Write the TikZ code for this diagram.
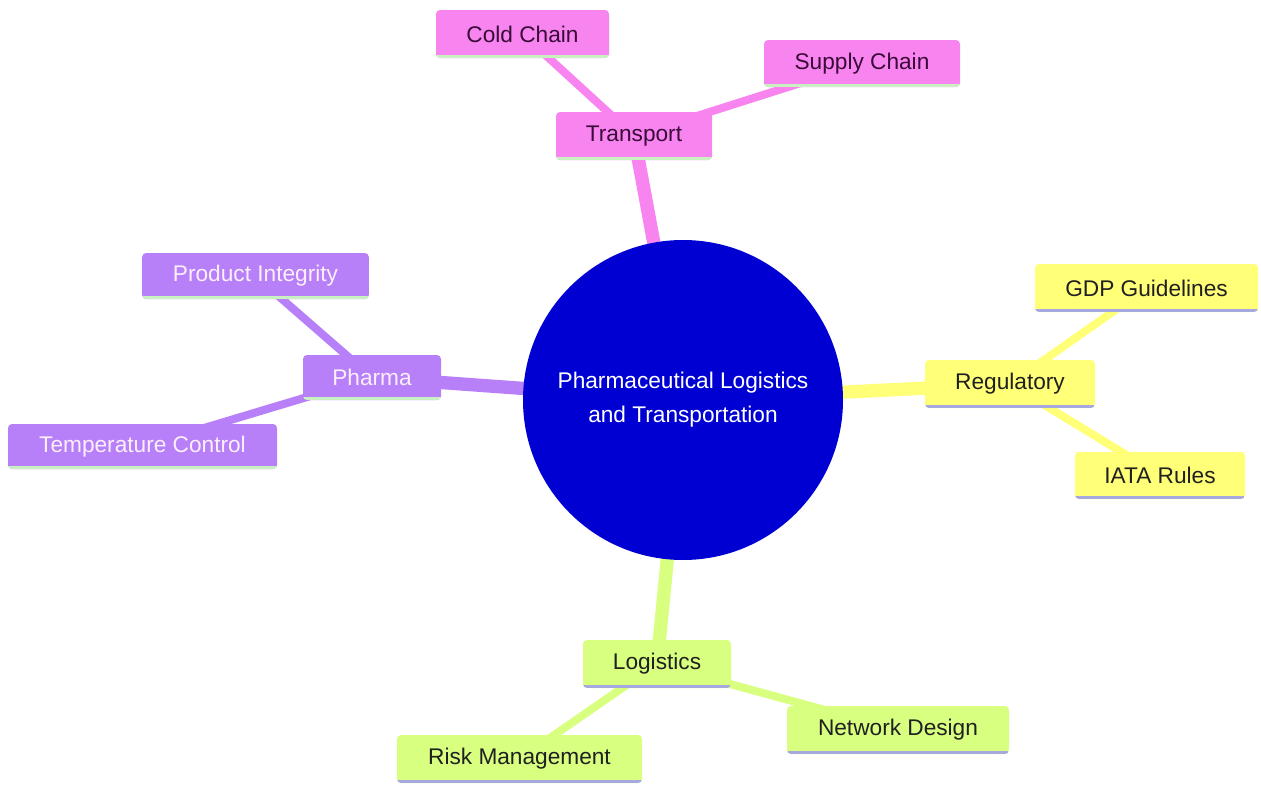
\documentclass[tikz,border=0pt]{standalone}
\usepackage{fontspec}
\setmainfont{Liberation Sans}
\usetikzlibrary{backgrounds}
\definecolor{pinkc}{HTML}{F884F0}
\definecolor{purc}{HTML}{B880F8}
\definecolor{yelc}{HTML}{FFFF78}
\definecolor{grnc}{HTML}{D8FF80}
\definecolor{bluec}{HTML}{0000D2}
\definecolor{lgreen}{HTML}{C8F0C0}
\definecolor{lav}{HTML}{A8A8E0}
\definecolor{pinktext}{HTML}{3A0A38}
\definecolor{purtext}{HTML}{FBEFFB}
\definecolor{darktext}{HTML}{202020}
\begin{document}
\begin{tikzpicture}[x=0.75pt,y=-0.75pt,
  mbox/.style={rectangle, rounded corners=3pt, inner sep=0pt,
    font=\fontsize{17}{20}\selectfont,
    path picture={\draw[line width=2.4pt,#1]
      ([yshift=1.2pt]path picture bounding box.south west) --
      ([yshift=1.2pt]path picture bounding box.south east);}},
  pinkbox/.style={mbox=lgreen, fill=pinkc, text=pinktext},
  purbox/.style={mbox=lgreen, fill=purc, text=purtext},
  yelbox/.style={mbox=lav, fill=yelc, text=darktext},
  grnbox/.style={mbox=lav, fill=grnc, text=darktext},
  lvone/.style={line width=10pt},
  lvtwo/.style={line width=6pt}]
\useasboundingbox (0,0) rectangle (1261,785);

\node[circle, fill=bluec, minimum size=240pt, inner sep=0pt, text=white, align=center,
  font=\fontsize{17}{25.5}\selectfont] (root) at (683,400)
  {Pharmaceutical Logistics\\and Transportation};

\node[pinkbox, minimum width=117pt, minimum height=36pt] (transport) at (634,136) {Transport};
\node[pinkbox, minimum width=129.75pt, minimum height=36pt] (cold) at (522.5,34) {Cold Chain};
\node[pinkbox, minimum width=147pt, minimum height=35.25pt] (supply) at (862,63.5) {Supply Chain};

\node[yelbox, minimum width=127.5pt, minimum height=36pt] (reg) at (1010,384) {Regulatory};
\node[yelbox, minimum width=167.25pt, minimum height=36pt] (gdp) at (1146.5,288) {GDP Guidelines};
\node[yelbox, minimum width=127.5pt, minimum height=35.25pt] (iata) at (1160,475.5) {IATA Rules};

\node[purbox, minimum width=103.5pt, minimum height=33.75pt] (pharma) at (372,377.5) {Pharma};
\node[purbox, minimum width=170pt, minimum height=34.5pt] (integ) at (255.5,276) {Product Integrity};
\node[purbox, minimum width=201.75pt, minimum height=33.75pt] (temp) at (142.5,446.5) {Temperature Control};

\node[grnbox, minimum width=111pt, minimum height=36pt] (logi) at (657,664) {Logistics};
\node[grnbox, minimum width=183.75pt, minimum height=36pt] (risk) at (519.5,759) {Risk Management};
\node[grnbox, minimum width=166.5pt, minimum height=36pt] (net) at (898,730) {Network Design};

\begin{pgfonlayer}{background}
\fill[white] (0,0) rectangle (1261,785);
\draw[lvone, pinkc] (root.center) -- (transport.center);
\draw[lvtwo, pinkc] (transport.center) -- (cold.center);
\draw[lvtwo, pinkc] (transport.center) -- (supply.center);
\draw[lvone, yelc] (root.center) -- (reg.center);
\draw[lvtwo, yelc] (reg.center) -- (gdp.center);
\draw[lvtwo, yelc] (reg.center) -- (iata.center);
\draw[lvone, purc] (root.center) -- (pharma.center);
\draw[lvtwo, purc] (pharma.center) -- (integ.center);
\draw[lvtwo, purc] (pharma.center) -- (temp.center);
\draw[lvone, grnc] (root.center) -- (logi.center);
\draw[lvtwo, grnc] (logi.center) -- (risk.center);
\draw[lvtwo, grnc] (logi.center) -- (net.center);
\end{pgfonlayer}
\end{tikzpicture}
\end{document}
